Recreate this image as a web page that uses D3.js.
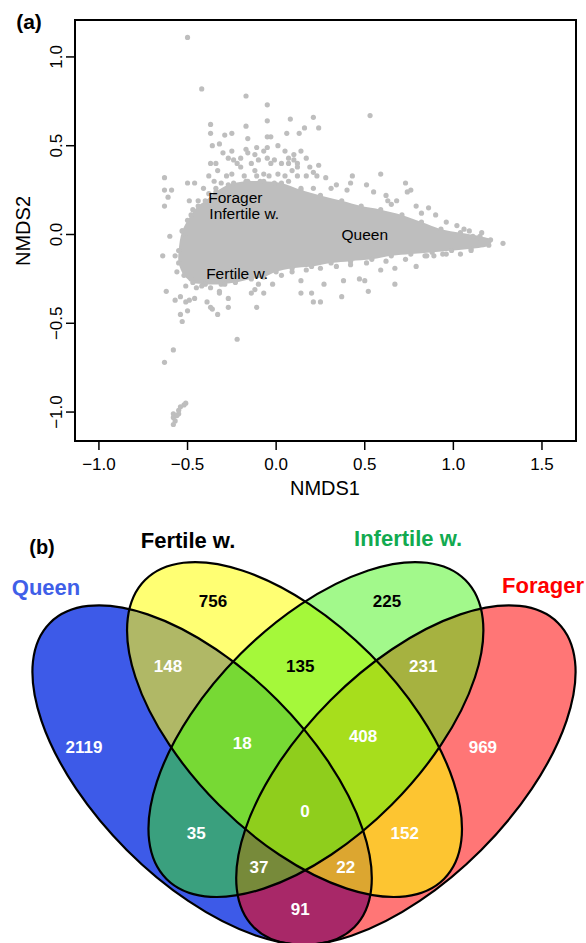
<!DOCTYPE html>
<html>
<head>
<meta charset="utf-8">
<script src="https://cdn.jsdelivr.net/npm/d3@7"></script>
<style>
  body { margin: 0; background: #fff; }
  svg { display: block; font-family: "Liberation Sans", Arial, Helvetica, sans-serif; }
</style>
</head>
<body>
<svg id="figure" width="586" height="943"></svg>
<script>
// ---- panel (a): NMDS ordination ----
const xTicks = [-1.0, -0.5, 0.0, 0.5, 1.0, 1.5];
const yTicks = [-1.0, -0.5, 0.0, 0.5, 1.0];

// dense core of the cloud (outline, NMDS1/NMDS2 units)
const cloudCore = [
  [-0.55, -0.09], [-0.53, 0.02], [-0.48, 0.11], [-0.44, 0.16], [-0.40, 0.19],
  [-0.34, 0.24], [-0.27, 0.28], [-0.17, 0.30], [-0.07, 0.30], [0.03, 0.29],
  [0.14, 0.25], [0.25, 0.22], [0.37, 0.19], [0.48, 0.16], [0.59, 0.14],
  [0.71, 0.11], [0.82, 0.07], [0.93, 0.03], [1.04, 0.01], [1.15, -0.01],
  [1.21, -0.03], [1.20, -0.06], [1.10, -0.08], [0.99, -0.09], [0.88, -0.10],
  [0.76, -0.11], [0.65, -0.12], [0.54, -0.14], [0.42, -0.15], [0.31, -0.16],
  [0.20, -0.18], [0.09, -0.19], [0.00, -0.21], [-0.07, -0.24], [-0.14, -0.25],
  [-0.23, -0.27], [-0.31, -0.28], [-0.40, -0.28], [-0.47, -0.27], [-0.52, -0.23],
  [-0.55, -0.16]
];

// individual points outside the dense core
const scatterPoints = [
  [-0.50, 1.11], [-0.42, 0.82], [-0.17, 0.78], [-0.05, 0.73], [0.08, 0.65],
  [-0.05, 0.64], [-0.37, 0.62], [-0.17, 0.61], [-0.37, 0.57], [-0.29, 0.56],
  [-0.25, 0.57], [-0.16, 0.54], [-0.05, 0.55], [-0.03, 0.55], [0.06, 0.57],
  [0.13, 0.57], [-0.36, 0.50], [-0.32, 0.51], [-0.17, 0.48], [-0.11, 0.49],
  [-0.05, 0.49], [0.01, 0.50], [0.53, 0.67], [0.21, 0.66], [0.16, 0.60],
  [0.24, 0.60], [0.10, 0.45], [0.12, 0.40], [0.19, 0.38], [0.21, 0.35],
  [0.23, 0.33], [0.59, 0.34], [0.42, 0.29], [0.73, 0.29], [0.74, 0.24],
  [0.76, 0.25], [0.86, 0.15], [0.63, 0.19], [0.65, 0.17], [1.09, 0.02],
  [1.11, -0.01], [1.14, -0.02], [1.20, -0.04], [1.28, -0.05],
  [-0.63, 0.32], [-0.50, 0.29], [-0.46, 0.29], [-0.63, 0.25], [-0.59, 0.25],
  [-0.61, 0.21], [-0.49, 0.19], [-0.63, 0.16], [-0.60, -0.01], [-0.37, 0.40],
  [-0.30, 0.46], [-0.27, 0.43], [-0.24, 0.42], [-0.20, 0.43], [-0.16, 0.46],
  [-0.12, 0.45], [-0.10, 0.42], [-0.05, 0.43], [-0.01, 0.42], [0.03, 0.40],
  [0.07, 0.43], [0.10, 0.42], [-0.33, 0.36], [-0.25, 0.34], [-0.20, 0.38],
  [-0.12, 0.36], [-0.07, 0.34], [0.01, 0.34], [0.09, 0.36], [0.12, 0.38],
  [-0.35, 0.30], [-0.31, 0.29], [-0.24, 0.29], [-0.16, 0.30], [-0.09, 0.30],
  [-0.01, 0.29], [0.07, 0.30], [-0.41, 0.26], [-0.38, 0.23], [-0.44, 0.19],
  [-0.47, 0.14], [-0.50, 0.08], [-0.53, 0.02], [-0.51, -0.02],
  [-0.25, 0.47], [-0.07, 0.47], [0.05, 0.47], [-0.34, 0.40], [-0.22, 0.40],
  [-0.14, 0.40], [-0.03, 0.40], [0.07, 0.40], [-0.38, 0.33], [-0.28, 0.33],
  [-0.18, 0.33], [-0.11, 0.33], [-0.04, 0.33], [0.05, 0.33], [0.12, 0.33],
  [0.17, 0.33], [-0.34, 0.26], [0.14, 0.26], [0.21, 0.26], [0.31, 0.26],
  [0.14, 0.47], [0.17, 0.43], [0.24, 0.39], [0.28, 0.32], [0.34, 0.28],
  [0.40, 0.25], [0.43, 0.33], [0.51, 0.28], [0.55, 0.24], [0.62, 0.22],
  [0.68, 0.19], [0.79, 0.16], [0.82, 0.12], [0.90, 0.11], [0.96, 0.07],
  [1.02, 0.05], [1.06, 0.03], [1.16, 0.01],
  [0.14, -0.26], [0.14, -0.33], [0.20, -0.33], [0.21, -0.38], [0.25, -0.38],
  [0.37, -0.35], [0.27, -0.28], [0.38, -0.26], [0.47, -0.25], [0.50, -0.26],
  [0.52, -0.32], [0.59, -0.20], [0.67, -0.19], [0.67, -0.28], [0.79, -0.18],
  [0.84, -0.12], [0.89, -0.12], [0.94, -0.11],
  [-0.62, -0.32], [-0.57, -0.37], [-0.54, -0.35], [-0.51, -0.38], [-0.49, -0.37],
  [-0.46, -0.36], [-0.54, -0.45], [-0.50, -0.43], [-0.53, -0.49], [-0.39, -0.38],
  [-0.37, -0.41], [-0.36, -0.42], [-0.33, -0.45], [-0.32, -0.32], [-0.32, -0.33],
  [-0.29, -0.28], [-0.27, -0.36], [-0.27, -0.41], [-0.14, -0.33], [-0.12, -0.31],
  [-0.10, -0.28], [-0.07, -0.33], [-0.02, -0.28], [-0.11, -0.41], [-0.22, -0.59],
  [-0.58, -0.65], [-0.63, -0.72], [-0.64, -0.12], [-0.57, -0.12], [-0.56, -0.21],
  [-0.51, -0.95], [-0.52, -0.96], [-0.54, -0.97], [-0.55, -0.99], [-0.55, -1.01],
  [-0.56, -1.02], [-0.58, -1.01], [-0.58, -1.03], [-0.57, -1.05], [-0.58, -1.07],
  [0.03, -0.23], [0.09, -0.21], [0.17, -0.20], [0.25, -0.19], [0.34, -0.18],
  [0.42, -0.17], [0.51, -0.16], [0.62, -0.15], [0.73, -0.14], [0.85, -0.12],
  [0.96, -0.11], [1.04, -0.11], [1.10, -0.09],
  [-0.51, -0.29], [-0.45, -0.30], [-0.42, -0.29], [-0.37, -0.30], [-0.48, -0.25]
];

const groupNames = ["Forager", "Infertile w.", "Fertile w.", "Queen"];
const groupCentroids = [[-0.23, 0.21], [-0.18, 0.12], [-0.22, -0.22], [0.50, 0.0]];

// ---- panel (b): Venn diagram ----
const setNames = ["Queen", "Fertile w.", "Infertile w.", "Forager"];
// each region: which sets it belongs to (0 Queen, 1 Fertile, 2 Infertile, 3 Forager)
const regionSets = [
  [0], [1], [2], [3],
  [0, 1], [0, 2], [0, 3], [1, 2], [1, 3], [2, 3],
  [0, 1, 2], [0, 1, 3], [0, 2, 3], [1, 2, 3],
  [0, 1, 2, 3]
];
const regionCounts = [2119, 756, 225, 969, 148, 35, 91, 135, 152, 231, 18, 22, 37, 408, 0];

document.addEventListener("DOMContentLoaded", function () {
  const svg = d3.select("#figure");

  renderScatter();
  renderVenn();

  function renderScatter() {
    const x = d3.scaleLinear().domain([-1.135, 1.692]).range([75, 576]);
    const y = d3.scaleLinear().domain([-1.163, 1.208]).range([441, 20]);
    const fmt = d3.format(".1f");
    const g = svg.append("g");

    const line = d3.line()
      .x(d => x(d[0]))
      .y(d => y(d[1]))
      .curve(d3.curveCatmullRomClosed);

    g.append("path")
      .attr("d", line(cloudCore))
      .attr("fill", "#bebebe");

    g.selectAll("circle.pt")
      .data(cloudCore.concat(scatterPoints))
      .join("circle")
      .attr("class", "pt")
      .attr("cx", d => x(d[0]))
      .attr("cy", d => y(d[1]))
      .attr("r", 2.6)
      .attr("fill", "#bebebe");

    g.selectAll("text.grp")
      .data(groupNames)
      .join("text")
      .attr("class", "grp")
      .attr("x", (d, i) => x(groupCentroids[i][0]))
      .attr("y", (d, i) => y(groupCentroids[i][1]))
      .attr("dy", "0.35em")
      .attr("text-anchor", "middle")
      .attr("font-size", 15.5)
      .attr("fill", "#000")
      .text(d => d);

    // frame
    g.append("rect")
      .attr("x", 75).attr("y", 20)
      .attr("width", 501).attr("height", 421)
      .attr("fill", "none")
      .attr("stroke", "#000")
      .attr("stroke-width", 2);

    // x axis
    const xa = g.append("g");
    xa.selectAll("line")
      .data(xTicks)
      .join("line")
      .attr("x1", d => x(d)).attr("x2", d => x(d))
      .attr("y1", 441).attr("y2", 450)
      .attr("stroke", "#000").attr("stroke-width", 1.5);
    xa.selectAll("text")
      .data(xTicks)
      .join("text")
      .attr("x", d => x(d))
      .attr("y", 470)
      .attr("text-anchor", "middle")
      .attr("font-size", 17)
      .text(d => fmt(d));

    // y axis
    const ya = g.append("g");
    ya.selectAll("line")
      .data(yTicks)
      .join("line")
      .attr("x1", 66).attr("x2", 75)
      .attr("y1", d => y(d)).attr("y2", d => y(d))
      .attr("stroke", "#000").attr("stroke-width", 1.5);
    ya.selectAll("text")
      .data(yTicks)
      .join("text")
      .attr("transform", d => `translate(62,${y(d)}) rotate(-90)`)
      .attr("text-anchor", "middle")
      .attr("font-size", 17)
      .text(d => fmt(d));

    g.append("text")
      .attr("x", 325).attr("y", 495)
      .attr("text-anchor", "middle")
      .attr("font-size", 20)
      .text("NMDS1");
    g.append("text")
      .attr("transform", "translate(30,231) rotate(-90)")
      .attr("text-anchor", "middle")
      .attr("font-size", 20)
      .text("NMDS2");

    g.append("text")
      .attr("x", 29).attr("y", 29)
      .attr("text-anchor", "middle")
      .attr("font-size", 21)
      .attr("font-weight", "bold")
      .text("(a)");
  }

  function renderVenn() {
    const vx = d3.scaleLinear().domain([0, 1]).range([33, 575]);
    const vy = d3.scaleLinear().domain([0, 1]).range([942, 400]);
    const unit = vx(1) - vx(0);

    // ellipse geometry: centre, semi-axes, screen rotation (deg)
    const shapes = [
      { cx: 0.312, cy: 0.308, a: 0.397, b: 0.196, rot: 45 },
      { cx: 0.4825, cy: 0.392, a: 0.390, b: 0.197, rot: 45 },
      { cx: 0.522, cy: 0.392, a: 0.390, b: 0.197, rot: -45 },
      { cx: 0.688, cy: 0.308, a: 0.397, b: 0.196, rot: -45 }
    ];
    const regionFill = [
      "#3d5ae8", "#ffff73", "#a2f98b", "#ff7676",
      "#b0b866", "#3aa07e", "#a82868", "#a5f83a", "#fdc531", "#a6b240",
      "#77d934", "#dca630", "#778a3a", "#a7de1c",
      "#8fce1c"
    ];
    const labelPos = [
      [0.094, 0.360], [0.332, 0.629], [0.653, 0.629], [0.830, 0.360],
      [0.249, 0.509], [0.301, 0.201], [0.493, 0.061], [0.493, 0.509], [0.686, 0.201], [0.720, 0.509],
      [0.386, 0.367], [0.577, 0.138], [0.417, 0.138], [0.609, 0.380],
      [0.502, 0.242]
    ];
    const labelInk = [
      "#fff", "#000", "#000", "#fff",
      "#fff", "#fff", "#fff", "#000", "#fff", "#fff",
      "#fff", "#fff", "#fff", "#fff",
      "#fff"
    ];
    const titlePos = [[0.024, 0.655], [0.286, 0.742], [0.692, 0.745], [0.941, 0.659]];
    const titleInk = ["#3f5fe8", "#000000", "#12aa50", "#ff0000"];

    function ellipseAttrs(sel, s) {
      sel.attr("cx", 0).attr("cy", 0)
        .attr("rx", s.a * unit)
        .attr("ry", s.b * unit)
        .attr("transform", `translate(${vx(s.cx)},${vy(s.cy)}) rotate(${s.rot})`);
    }

    const defs = svg.append("defs");
    shapes.forEach(function (s, i) {
      defs.append("clipPath")
        .attr("id", "venn-clip-" + i)
        .append("ellipse")
        .call(ellipseAttrs, s);
    });

    const g = svg.append("g");

    // paint regions from single sets to the 4-way overlap
    regionSets.forEach(function (members, r) {
      let host = g;
      members.slice(0, -1).forEach(function (m) {
        host = host.append("g").attr("clip-path", `url(#venn-clip-${m})`);
      });
      host.append("ellipse")
        .call(ellipseAttrs, shapes[members[members.length - 1]])
        .attr("fill", regionFill[r]);
    });

    g.selectAll("ellipse.outline")
      .data(shapes)
      .join("ellipse")
      .attr("class", "outline")
      .each(function (s) { d3.select(this).call(ellipseAttrs, s); })
      .attr("fill", "none")
      .attr("stroke", "#000")
      .attr("stroke-width", 2.2);

    g.selectAll("text.count")
      .data(regionCounts)
      .join("text")
      .attr("class", "count")
      .attr("x", (d, i) => vx(labelPos[i][0]))
      .attr("y", (d, i) => vy(labelPos[i][1]))
      .attr("dy", "0.35em")
      .attr("text-anchor", "middle")
      .attr("font-size", 17)
      .attr("font-weight", "bold")
      .attr("fill", (d, i) => labelInk[i])
      .text(d => d);

    g.selectAll("text.set")
      .data(setNames)
      .join("text")
      .attr("class", "set")
      .attr("x", (d, i) => vx(titlePos[i][0]))
      .attr("y", (d, i) => vy(titlePos[i][1]))
      .attr("dy", "0.35em")
      .attr("text-anchor", "middle")
      .attr("font-size", 22)
      .attr("font-weight", "bold")
      .attr("fill", (d, i) => titleInk[i])
      .text(d => d);

    g.append("text")
      .attr("x", 42).attr("y", 554)
      .attr("text-anchor", "middle")
      .attr("font-size", 20)
      .attr("font-weight", "bold")
      .text("(b)");
  }
});
</script>
</body>
</html>
